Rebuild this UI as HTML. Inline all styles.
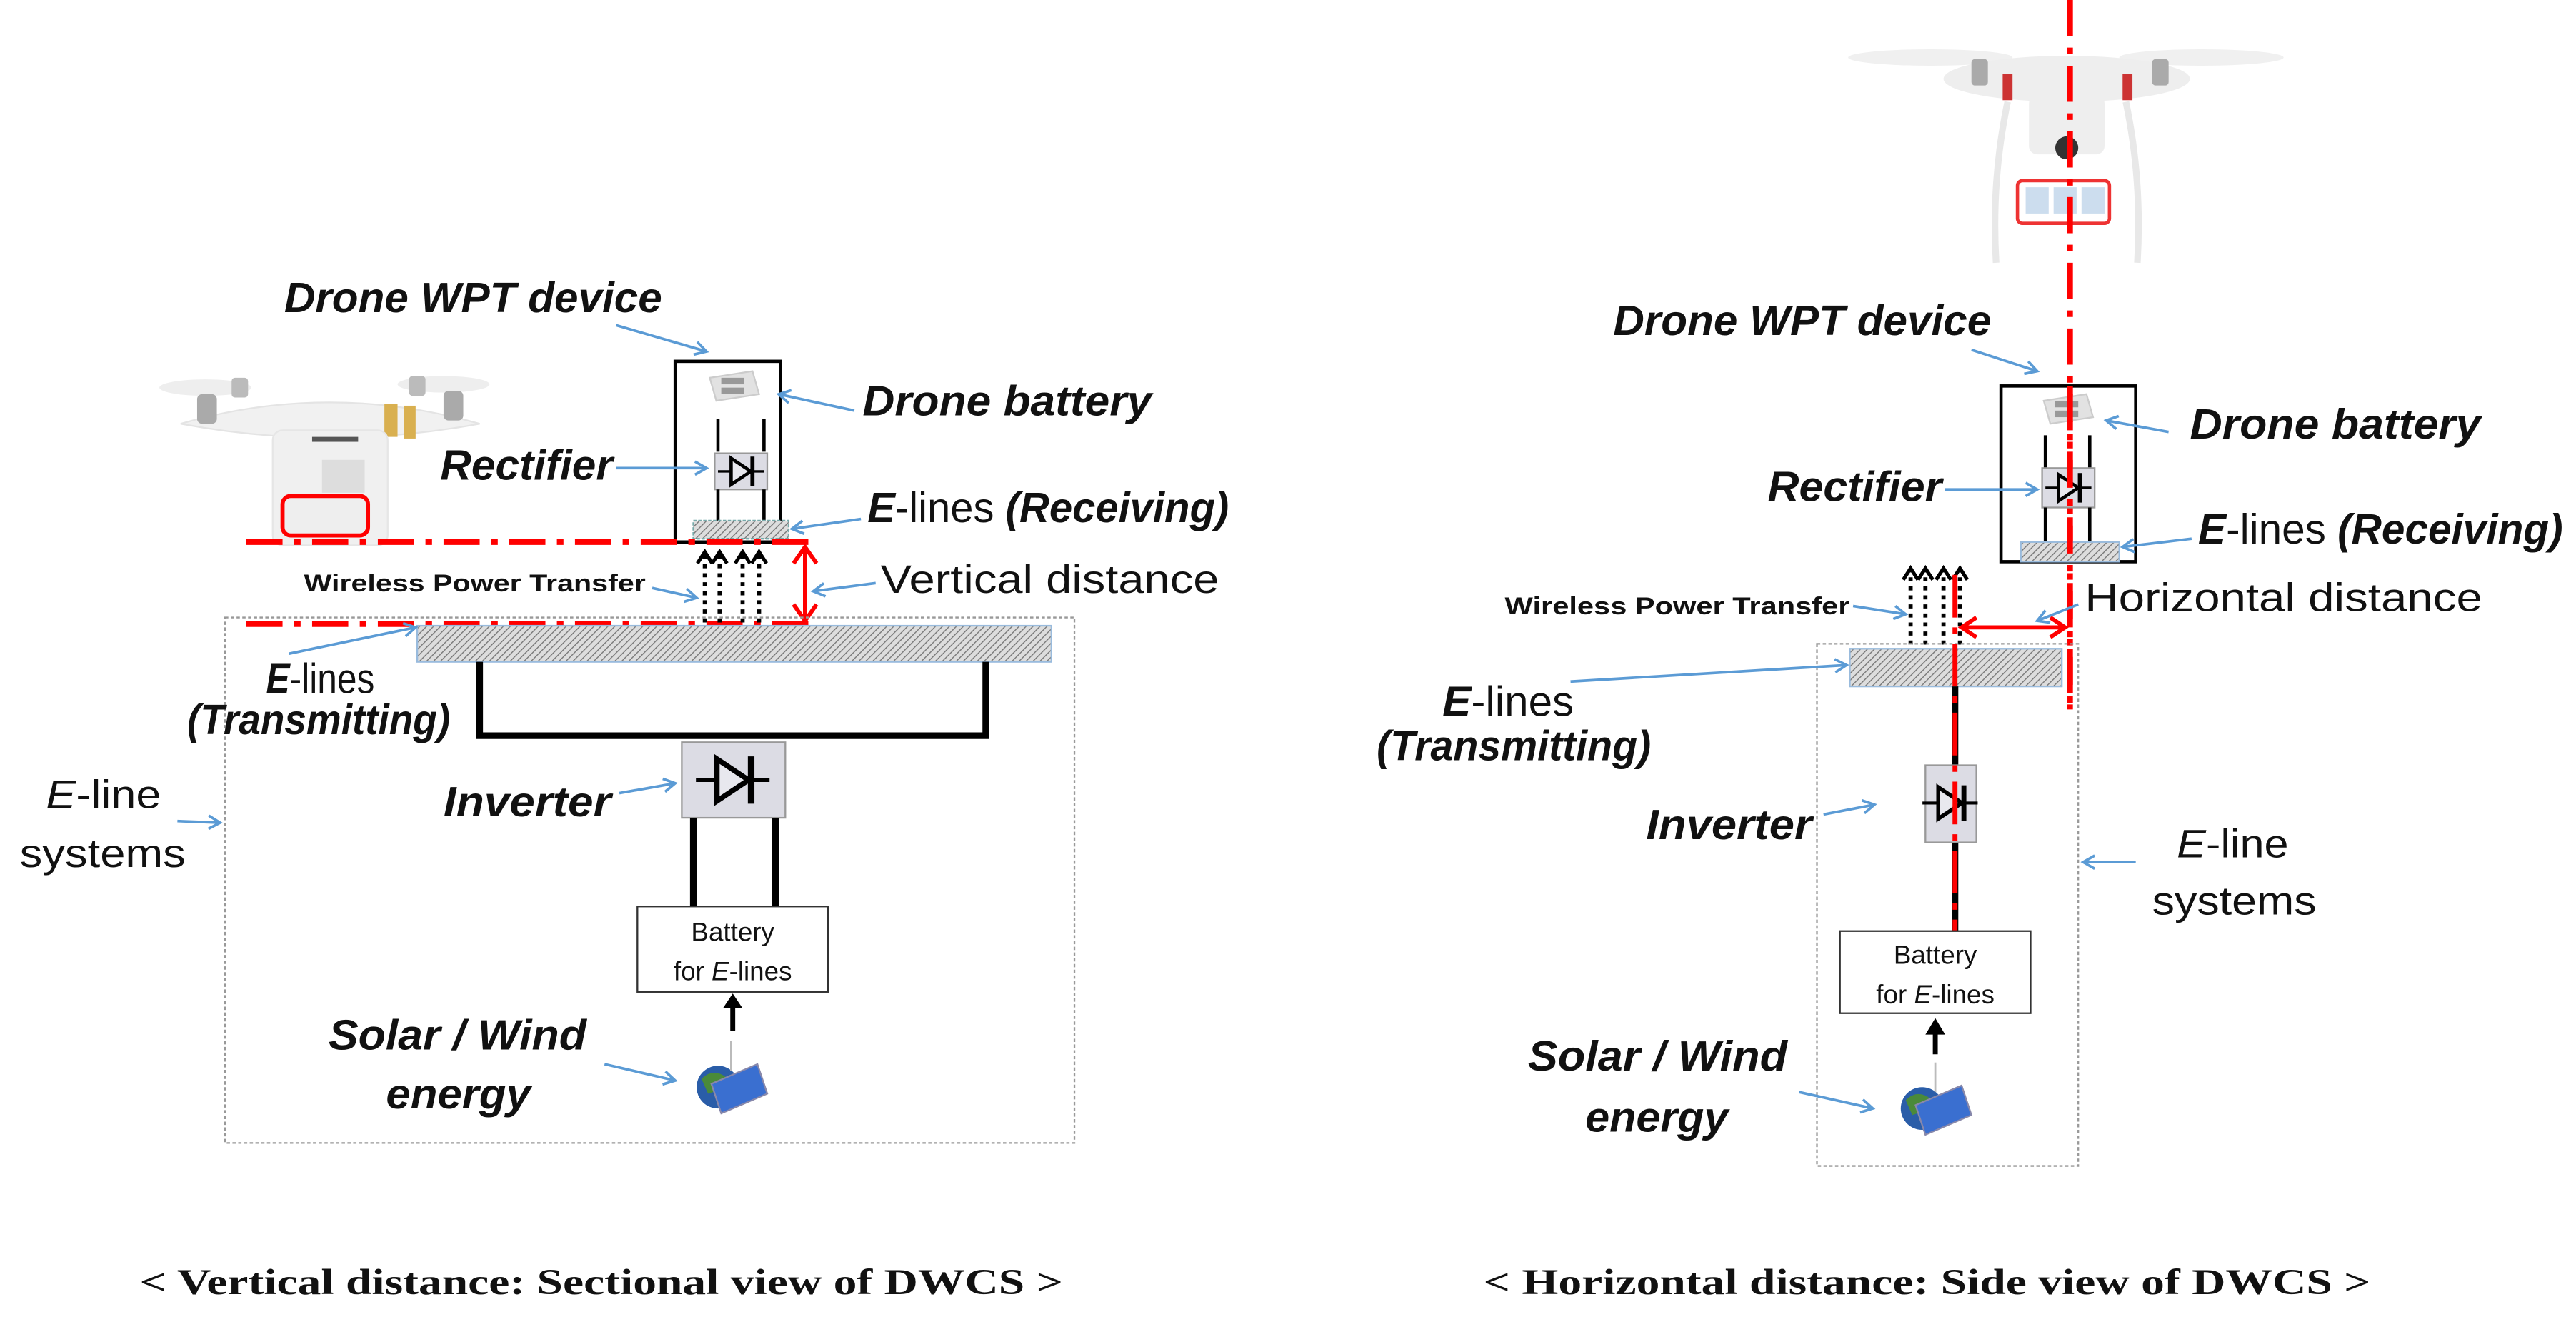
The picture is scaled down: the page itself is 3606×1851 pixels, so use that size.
<!DOCTYPE html>
<html><head><meta charset="utf-8"><style>
html,body{margin:0;padding:0;background:#fff;}
svg{display:block;}
text{font-family:"Liberation Sans",sans-serif;}
.L{font-style:italic;font-weight:bold;font-size:26px;fill:#111;}
.N{font-size:24px;fill:#111;}
.W{font-weight:bold;font-size:15px;fill:#111;}
.C{font-family:"Liberation Serif",serif;font-weight:bold;font-size:22px;fill:#111;}
.B{font-size:16px;fill:#111;}
.ar{stroke:#5b9bd5;stroke-width:1.6;fill:none;marker-end:url(#ba);}
.rd{stroke:#f00;stroke-width:3.5;stroke-dasharray:22 7 4 7;fill:none;}
</style></head><body>
<svg width="3606" height="1851" viewBox="0 0 1568 805" preserveAspectRatio="none" xmlns="http://www.w3.org/2000/svg">
<defs>
<pattern id="h" width="3" height="3" patternUnits="userSpaceOnUse" patternTransform="rotate(45)"><rect width="3" height="3" fill="#ddd"/><line x1="0" y1="0" x2="0" y2="3" stroke="#777" stroke-width="1.2"/></pattern>
<marker id="ba" markerWidth="10" markerHeight="10" refX="8" refY="5" orient="auto" markerUnits="userSpaceOnUse"><path d="M1,1 L8,5 L1,9" fill="none" stroke="#5b9bd5" stroke-width="1.6"/></marker>
<marker id="ka" markerWidth="12" markerHeight="12" refX="9" refY="6" orient="auto" markerUnits="userSpaceOnUse"><path d="M2,1.5 L9,6 L2,10.5" fill="none" stroke="#000" stroke-width="2.2"/></marker>
<g id="diode"><line x1="-14" y1="0" x2="14" y2="0" stroke="#000" stroke-width="1.5"/><path d="M-6,-8 L6,0 L-6,8 Z" fill="#e8e8ee" stroke="#000" stroke-width="2"/><line x1="7" y1="-9" x2="7" y2="9" stroke="#000" stroke-width="2.5"/></g>
<g id="earth"><circle cx="0" cy="0" r="13" fill="#2a5da8"/><path d="M-10,-5 Q-3,-12 5,-6 Q2,2 -6,4 Z" fill="#4a8a3a"/><path d="M-4,-2 L24,-14 L30,4 L2,16 Z" fill="#3a6fd0" stroke="#88a" stroke-width="1"/><line x1="8" y1="-10" x2="8" y2="-28" stroke="#bbb" stroke-width="1.2"/></g>
<g id="batt"><path d="M0,4 L26,0 L30,14 L4,18 Z" fill="#e2e2e2" stroke="#ccc"/><rect x="7" y="4" width="14" height="4" fill="#999"/><rect x="7" y="10" width="14" height="4" fill="#999"/></g>
</defs>

<!-- LEFT drone -->
<g>
<ellipse cx="125" cy="236" rx="28" ry="5" fill="#eee"/><ellipse cx="270" cy="234" rx="28" ry="5" fill="#eee"/>
<path d="M110,258 Q200,232 292,258 Q200,275 110,258 Z" fill="#f1f1f1" stroke="#e4e4e4"/>
<rect x="120" y="240" width="12" height="18" rx="3" fill="#aaa"/><rect x="270" y="238" width="12" height="18" rx="3" fill="#aaa"/>
<rect x="141" y="230" width="10" height="12" rx="2" fill="#bbb"/><rect x="249" y="229" width="10" height="12" rx="2" fill="#bbb"/>
<rect x="234" y="246" width="8" height="20" fill="#d9b050"/><rect x="246" y="247" width="7" height="20" fill="#d9b050"/>
<rect x="166" y="262" width="70" height="70" rx="6" fill="#f0f0f0" stroke="#e6e6e6"/>
<rect x="196" y="280" width="26" height="20" fill="#ddd"/>
<rect x="190" y="266" width="28" height="3" fill="#555"/>
<rect x="172" y="302" width="52" height="24" rx="5" fill="#eee" stroke="#f00" stroke-width="2.5"/>
</g>

<!-- LEFT WPT device -->
<text class="L" x="173" y="190" textLength="230" lengthAdjust="spacingAndGlyphs">Drone WPT device</text>
<line class="ar" x1="375" y1="198" x2="430" y2="214"/>
<rect x="411" y="220" width="64" height="110" fill="none" stroke="#000" stroke-width="2"/>
<use href="#batt" x="432" y="226"/>
<line x1="437" y1="255" x2="437" y2="275" stroke="#000" stroke-width="2"/><line x1="465" y1="255" x2="465" y2="275" stroke="#000" stroke-width="2"/>
<rect x="435" y="276" width="32" height="22" fill="#dcdce4" stroke="#999"/><use href="#diode" x="451" y="287"/>
<line x1="437" y1="298" x2="437" y2="317" stroke="#000" stroke-width="2"/><line x1="465" y1="298" x2="465" y2="317" stroke="#000" stroke-width="2"/>
<rect x="422" y="317" width="58" height="11" fill="url(#h)" stroke="#7aa" stroke-dasharray="2 1"/>
<text class="L" x="525" y="253" textLength="176" lengthAdjust="spacingAndGlyphs">Drone battery</text>
<line class="ar" x1="520" y1="250" x2="474" y2="240"/>
<text class="L" x="268" y="292" textLength="105" lengthAdjust="spacingAndGlyphs">Rectifier</text>
<line class="ar" x1="375" y1="285" x2="430" y2="285"/>
<text class="L" x="528" y="318" textLength="220" lengthAdjust="spacingAndGlyphs"><tspan>E</tspan><tspan font-style="normal" font-weight="normal">-lines </tspan>(Receiving)</text>
<line class="ar" x1="524" y1="316" x2="482" y2="322"/>
<line class="rd" x1="150" y1="330" x2="492" y2="330"/>
<line class="rd" x1="150" y1="380" x2="492" y2="380"/>
<line x1="490" y1="334" x2="490" y2="377" stroke="#f00" stroke-width="2.5"/>
<path d="M483,343 L490,333 L497,343 M483,368 L490,378 L497,368" fill="none" stroke="#f00" stroke-width="2.5"/>
<text class="N" x="536" y="361" textLength="206" lengthAdjust="spacingAndGlyphs">Vertical distance</text>
<line class="ar" x1="533" y1="355" x2="495" y2="360"/>
<text class="W" x="185" y="360" textLength="208" lengthAdjust="spacingAndGlyphs">Wireless Power Transfer</text>
<line class="ar" x1="397" y1="358" x2="424" y2="364"/>
<g stroke="#000" stroke-width="2.5" stroke-dasharray="2.5 3" marker-end="url(#ka)">
<line x1="429" y1="379" x2="429" y2="336"/><line x1="438" y1="379" x2="438" y2="336"/><line x1="452" y1="379" x2="452" y2="336"/><line x1="462" y1="379" x2="462" y2="336"/>
</g>
<rect x="137" y="376" width="517" height="320" fill="none" stroke="#999" stroke-width="1" stroke-dasharray="2 1.5"/>
<rect x="254" y="381" width="386" height="22" fill="url(#h)" stroke="#9bd"/>
<text class="L" x="162" y="422" textLength="66" lengthAdjust="spacingAndGlyphs"><tspan>E</tspan><tspan font-style="normal" font-weight="normal">-lines</tspan></text>
<text class="L" x="114" y="447" textLength="160" lengthAdjust="spacingAndGlyphs">(Transmitting)</text>
<line class="ar" x1="176" y1="398" x2="253" y2="382"/>
<path d="M292,403 V448 H600 V403" fill="none" stroke="#000" stroke-width="4"/>
<rect x="415" y="452" width="63" height="46" fill="#dcdce4" stroke="#999"/>
<g transform="translate(446,475) scale(1.6)"><use href="#diode"/></g>
<text class="L" x="270" y="497" textLength="102" lengthAdjust="spacingAndGlyphs">Inverter</text>
<line class="ar" x1="377" y1="483" x2="411" y2="477"/>
<line x1="422" y1="498" x2="422" y2="552" stroke="#000" stroke-width="4"/><line x1="472" y1="498" x2="472" y2="552" stroke="#000" stroke-width="4"/>
<rect x="388" y="552" width="116" height="52" fill="#fff" stroke="#333"/>
<text class="B" x="446" y="573" text-anchor="middle">Battery</text>
<text class="B" x="446" y="597" text-anchor="middle">for <tspan font-style="italic">E</tspan>-lines</text>
<line x1="446" y1="628" x2="446" y2="612" stroke="#000" stroke-width="3"/><path d="M440,614 L446,605 L452,614 Z" fill="#000"/>
<use href="#earth" x="437" y="662"/>
<text class="L" x="200" y="639" textLength="157" lengthAdjust="spacingAndGlyphs">Solar / Wind</text>
<text class="L" x="235" y="675" textLength="88" lengthAdjust="spacingAndGlyphs">energy</text>
<line class="ar" x1="368" y1="648" x2="411" y2="658"/>
<text class="N" x="28" y="492" textLength="70" lengthAdjust="spacingAndGlyphs"><tspan font-style="italic">E</tspan>-line</text>
<text class="N" x="12" y="528" textLength="101" lengthAdjust="spacingAndGlyphs">systems</text>
<line class="ar" x1="108" y1="500" x2="134" y2="501"/>
<text class="C" x="366" y="788" text-anchor="middle" textLength="562" lengthAdjust="spacingAndGlyphs">&lt; Vertical distance: Sectional view of DWCS &gt;</text>

<!-- RIGHT drone -->
<g>
<ellipse cx="1175" cy="35" rx="50" ry="5" fill="#f0f0f0"/><ellipse cx="1340" cy="35" rx="50" ry="5" fill="#f0f0f0"/>
<ellipse cx="1258" cy="48" rx="75" ry="14" fill="#eee"/>
<rect x="1200" y="36" width="10" height="16" rx="2" fill="#aaa"/><rect x="1310" y="36" width="10" height="16" rx="2" fill="#aaa"/>
<rect x="1219" y="45" width="6" height="16" fill="#c33"/><rect x="1292" y="45" width="6" height="16" fill="#c33"/>
<rect x="1235" y="58" width="46" height="36" rx="5" fill="#eee"/>
<circle cx="1258" cy="90" r="7" fill="#333"/>
<path d="M1222,62 Q1212,110 1215,160" stroke="#e8e8e8" stroke-width="4" fill="none"/><path d="M1294,62 Q1304,110 1301,160" stroke="#e8e8e8" stroke-width="4" fill="none"/>
<rect x="1228" y="110" width="56" height="26" rx="3" fill="#fff" stroke="#e33" stroke-width="2"/>
<rect x="1233" y="114" width="14" height="16" fill="#cde"/><rect x="1250" y="114" width="14" height="16" fill="#cde"/><rect x="1267" y="114" width="14" height="16" fill="#cde"/>
</g>
<line class="rd" x1="1260" y1="0" x2="1260" y2="432"/>

<text class="L" x="982" y="204" textLength="230" lengthAdjust="spacingAndGlyphs">Drone WPT device</text>
<line class="ar" x1="1200" y1="213" x2="1240" y2="226"/>
<rect x="1218" y="235" width="82" height="107" fill="none" stroke="#000" stroke-width="2"/>
<use href="#batt" x="1244" y="240"/>
<line x1="1245" y1="265" x2="1245" y2="285" stroke="#000" stroke-width="2"/><line x1="1272" y1="265" x2="1272" y2="285" stroke="#000" stroke-width="2"/>
<rect x="1243" y="285" width="32" height="24" fill="#dcdce4" stroke="#999"/><use href="#diode" x="1259" y="297"/>
<line x1="1245" y1="309" x2="1245" y2="330" stroke="#000" stroke-width="2"/><line x1="1272" y1="309" x2="1272" y2="330" stroke="#000" stroke-width="2"/>
<rect x="1230" y="330" width="60" height="12" fill="url(#h)" stroke="#9bd"/>
<line class="rd" x1="1260" y1="235" x2="1260" y2="432"/>
<text class="L" x="1333" y="267" textLength="177" lengthAdjust="spacingAndGlyphs">Drone battery</text>
<line class="ar" x1="1320" y1="263" x2="1282" y2="256"/>
<text class="L" x="1076" y="305" textLength="106" lengthAdjust="spacingAndGlyphs">Rectifier</text>
<line class="ar" x1="1184" y1="298" x2="1240" y2="298"/>
<text class="L" x="1338" y="331" textLength="222" lengthAdjust="spacingAndGlyphs"><tspan>E</tspan><tspan font-style="normal" font-weight="normal">-lines </tspan>(Receiving)</text>
<line class="ar" x1="1334" y1="328" x2="1292" y2="333"/>

<g stroke="#000" stroke-width="2.5" stroke-dasharray="2.5 3" marker-end="url(#ka)">
<line x1="1163" y1="398" x2="1163" y2="346"/><line x1="1172" y1="398" x2="1172" y2="346"/><line x1="1183" y1="398" x2="1183" y2="346"/><line x1="1193" y1="398" x2="1193" y2="346"/>
</g>
<text class="W" x="916" y="374" textLength="210" lengthAdjust="spacingAndGlyphs">Wireless Power Transfer</text>
<line class="ar" x1="1128" y1="369" x2="1160" y2="374"/>
<line x1="1195" y1="382" x2="1256" y2="382" stroke="#f00" stroke-width="2.5"/>
<path d="M1203,376 L1194,382 L1203,388 M1248,376 L1257,382 L1248,388" fill="none" stroke="#f00" stroke-width="2.5"/>
<text class="N" x="1269" y="372" textLength="242" lengthAdjust="spacingAndGlyphs">Horizontal distance</text>
<line class="ar" x1="1265" y1="368" x2="1240" y2="378"/>
<rect x="1106" y="392" width="159" height="318" fill="none" stroke="#999" stroke-width="1" stroke-dasharray="2 1.5"/>
<rect x="1126" y="395" width="129" height="23" fill="url(#h)" stroke="#9bd"/>
<text class="L" x="878" y="436" textLength="80" lengthAdjust="spacingAndGlyphs"><tspan>E</tspan><tspan font-style="normal" font-weight="normal">-lines</tspan></text>
<text class="L" x="838" y="463" textLength="167" lengthAdjust="spacingAndGlyphs">(Transmitting)</text>
<line class="ar" x1="956" y1="415" x2="1124" y2="405"/>
<line x1="1190" y1="418" x2="1190" y2="567" stroke="#000" stroke-width="4"/>
<rect x="1172" y="466" width="31" height="47" fill="#dcdce4" stroke="#999"/>
<g transform="translate(1187,489) scale(1.2)"><use href="#diode"/></g>
<line x1="1190" y1="350" x2="1190" y2="567" stroke="#f00" stroke-width="3" stroke-dasharray="26 6 4 6"/>
<text class="L" x="1002" y="511" textLength="101" lengthAdjust="spacingAndGlyphs">Inverter</text>
<line class="ar" x1="1110" y1="496" x2="1141" y2="490"/>
<rect x="1120" y="567" width="116" height="50" fill="#fff" stroke="#333"/>
<text class="B" x="1178" y="587" text-anchor="middle">Battery</text>
<text class="B" x="1178" y="611" text-anchor="middle">for <tspan font-style="italic">E</tspan>-lines</text>
<line x1="1178" y1="642" x2="1178" y2="628" stroke="#000" stroke-width="3"/><path d="M1172,630 L1178,620 L1184,630 Z" fill="#000"/>
<use href="#earth" x="1170" y="675"/>
<text class="L" x="930" y="652" textLength="158" lengthAdjust="spacingAndGlyphs">Solar / Wind</text>
<text class="L" x="965" y="689" textLength="87" lengthAdjust="spacingAndGlyphs">energy</text>
<line class="ar" x1="1095" y1="665" x2="1140" y2="675"/>
<text class="N" x="1325" y="522" textLength="68" lengthAdjust="spacingAndGlyphs"><tspan font-style="italic">E</tspan>-line</text>
<text class="N" x="1310" y="557" textLength="100" lengthAdjust="spacingAndGlyphs">systems</text>
<line class="ar" x1="1300" y1="525" x2="1268" y2="525"/>
<text class="C" x="1173" y="788" text-anchor="middle" textLength="540" lengthAdjust="spacingAndGlyphs">&lt; Horizontal distance: Side view of DWCS &gt;</text>
</svg>
</body></html>
